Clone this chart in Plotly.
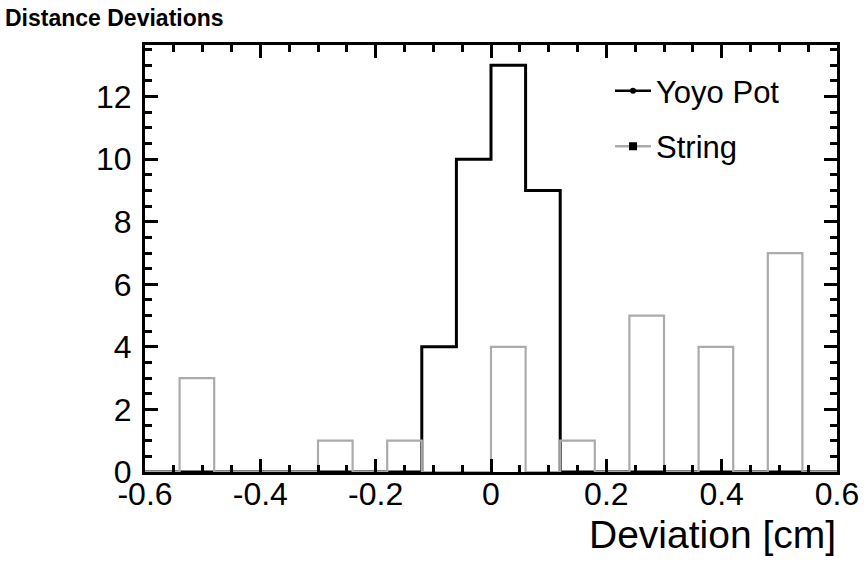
import numpy as np
import plotly.graph_objects as go

# Histogram binning: 20 bins of 0.06 cm between -0.6 and 0.6
bin_edges = np.round(np.linspace(-0.6, 0.6, 21), 2)

# Entries per bin
yoyo_pot_counts = [0, 0, 0, 0, 0, 0, 0, 0, 4, 10, 13, 9, 0, 0, 0, 0, 0, 0, 0, 0]
string_counts = [0, 3, 0, 0, 0, 1, 0, 1, 0, 0, 4, 0, 1, 0, 5, 0, 4, 0, 7, 0]

x_tick_vals = [-0.6, -0.4, -0.2, 0, 0.2, 0.4, 0.6]
x_tick_text = ["-0.6", "-0.4", "-0.2", "0", "0.2", "0.4", "0.6"]
y_tick_vals = [0, 2, 4, 6, 8, 10, 12]
y_tick_text = ["0", "2", "4", "6", "8", "10", "12"]

FONT = "Liberation Sans, Arial, Helvetica, sans-serif"
YOYO_COLOR = "#000000"
STRING_COLOR = "#ababab"


def step_outline(counts):
    """Outline of a histogram: bin edges with the bin contents, drawn as hv steps."""
    return list(bin_edges), list(counts) + [counts[-1]]


fig = go.Figure()

x, y = step_outline(yoyo_pot_counts)
fig.add_trace(go.Scatter(x=x, y=y, mode="lines", line=dict(color=YOYO_COLOR, width=3, shape="hv"),
                         showlegend=False, hoverinfo="skip"))
x, y = step_outline(string_counts)
fig.add_trace(go.Scatter(x=x, y=y, mode="lines", line=dict(color=STRING_COLOR, width=2.2, shape="hv"),
                         showlegend=False, hoverinfo="skip"))

# Legend entries (line with a small marker)
fig.add_trace(go.Scatter(x=[None], y=[None], mode="lines+markers", name="Yoyo Pot", legendgroup="a",
                         line=dict(color=YOYO_COLOR, width=2.5),
                         marker=dict(color="#000000", size=6, symbol="circle")))
fig.add_trace(go.Scatter(x=[None], y=[None], mode="lines+markers", name="String", legendgroup="b",
                         line=dict(color=STRING_COLOR, width=2.5),
                         marker=dict(color="#000000", size=8, symbol="square")))

axis_common = dict(
    showline=True, linecolor="black", linewidth=3, mirror="allticks",
    ticks="inside", tickcolor="black", tickwidth=3, ticklen=13,
    showgrid=False, zeroline=False, automargin=False,
    tickfont=dict(family=FONT, size=32, color="black"),
)

fig.update_xaxes(range=[-0.6, 0.6], tickvals=x_tick_vals, ticktext=x_tick_text,
                 minor=dict(dtick=0.05, tick0=0, ticks="inside", ticklen=7, tickwidth=3, tickcolor="black"),
                 ticklabelstandoff=-8,
                 **axis_common)
fig.update_yaxes(range=[0, 13.65], tickvals=y_tick_vals, ticktext=y_tick_text,
                 minor=dict(dtick=0.5, tick0=0, ticks="inside", ticklen=7, tickwidth=3, tickcolor="black"),
                 ticklabelstandoff=4,
                 **axis_common)

fig.add_annotation(text="Deviation [cm]", xref="paper", yref="paper", x=1.002, y=-0.147,
                   xanchor="right", yanchor="middle", showarrow=False,
                   font=dict(family=FONT, size=39, color="black"))

fig.update_layout(
    width=864, height=561,
    margin=dict(l=145, r=27, t=45, b=89),
    paper_bgcolor="white", plot_bgcolor="white",
    title=dict(text="<b>Distance Deviations</b>", xref="container", yref="container",
               x=5 / 864, y=1 - 18 / 561, xanchor="left", yanchor="middle",
               font=dict(family=FONT, size=23, color="black")),
    legend=dict(x=0.672, y=0.955, xanchor="left", yanchor="top", bgcolor="rgba(0,0,0,0)",
                font=dict(family=FONT, size=31, color="black"), tracegroupgap=12,
                itemwidth=36),
)

fig.write_html("out.html")
